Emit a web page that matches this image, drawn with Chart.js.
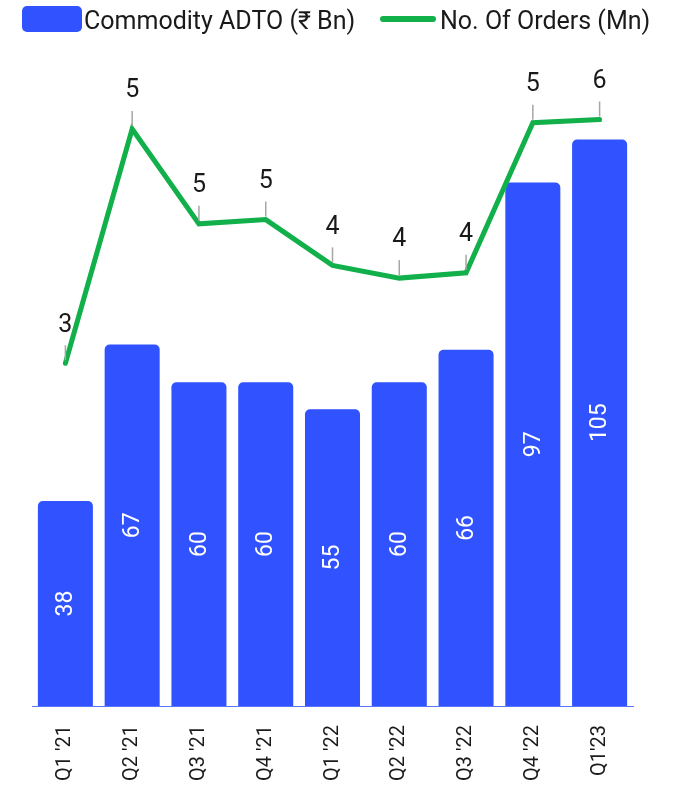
<!DOCTYPE html>
<html>
<head>
<meta charset="utf-8">
<script src="https://cdn.jsdelivr.net/npm/chart.js@4/dist/chart.umd.min.js"></script>
<style>
  html, body { margin: 0; padding: 0; background: #fff; }
  #contenedor { width: 675px; height: 793px; position: relative; }
</style>
</head>
<body>
<div id="contenedor"><canvas id="grafico"></canvas></div>
<script>
// datos
const trimestres = ["Q1 '21", "Q2 '21", "Q3 '21", "Q4 '21", "Q1 '22", "Q2 '22", "Q3 '22", "Q4 '22", "Q1'23"];
const adto = [38, 67, 60, 60, 55, 60, 66, 97, 105];
const ordenes = [3.22, 5.42, 4.53, 4.57, 4.14, 4.02, 4.07, 5.48, 5.51];
const nombreBarras = "Commodity ADTO (₹ Bn)";
const nombreLinea = "No. Of Orders (Mn)";

const colorBarras = "#3052ff";
const colorLinea = "#12b04a";
const colorTexto = "#1a1a1a";
const fuente = "Roboto";

const leyenda = {
    id: "leyenda",
    afterDraw(chart) {
        const ctx = chart.ctx;
        ctx.save();
        ctx.fillStyle = colorBarras;
        ctx.beginPath();
        ctx.roundRect(22, 6, 60, 26, 5);
        ctx.fill();

        ctx.strokeStyle = colorLinea;
        ctx.lineWidth = 6;
        ctx.lineCap = "round";
        ctx.beginPath();
        ctx.moveTo(383, 19);
        ctx.lineTo(433, 19);
        ctx.stroke();

        ctx.font = `25px ${fuente}`;
        ctx.fillStyle = colorTexto;
        ctx.textBaseline = "alphabetic";
        ctx.fillText(nombreBarras, 84, 29);
        ctx.fillText(nombreLinea, 440, 29);
        ctx.restore();
    }
};

const etiquetas = {
    id: "etiquetas",
    afterDatasetsDraw(chart) {
        const ctx = chart.ctx;

        // valores dentro de las barras, girados
        chart.getDatasetMeta(0).data.forEach((barra, i) => {
            ctx.save();
            ctx.translate(barra.x, (barra.y + barra.base) / 2);
            ctx.rotate(-Math.PI / 2);
            ctx.font = `23px ${fuente}`;
            ctx.fillStyle = "#ffffff";
            ctx.textAlign = "center";
            ctx.textBaseline = "middle";
            ctx.fillText(String(adto[i]), 0, 1);
            ctx.restore();
        });

        // valores de la linea con guia
        chart.getDatasetMeta(1).data.forEach((punto, i) => {
            ctx.save();
            ctx.strokeStyle = "#a6a6a6";
            ctx.lineWidth = 1.5;
            ctx.beginPath();
            ctx.moveTo(punto.x, punto.y - 3);
            ctx.lineTo(punto.x, punto.y - 18);
            ctx.stroke();
            ctx.font = `25px ${fuente}`;
            ctx.fillStyle = colorTexto;
            ctx.textAlign = "center";
            ctx.textBaseline = "middle";
            ctx.fillText(String(Math.round(ordenes[i])), punto.x, punto.y - 38);
            ctx.restore();
        });
    }
};

const ctx = document.getElementById("grafico").getContext("2d");

new Chart(ctx, {
    data: {
        labels: trimestres,
        datasets: [
            {
                type: "bar",
                label: nombreBarras,
                data: adto,
                backgroundColor: colorBarras,
                borderRadius: 5,
                categoryPercentage: 1,
                barPercentage: 0.824,
                yAxisID: "y",
                order: 2
            },
            {
                type: "line",
                label: nombreLinea,
                data: ordenes,
                borderColor: colorLinea,
                borderWidth: 5,
                borderCapStyle: "round",
                borderJoinStyle: "miter",
                pointRadius: 0,
                tension: 0,
                yAxisID: "y1",
                order: 1
            }
        ]
    },
    options: {
        responsive: true,
        maintainAspectRatio: false,
        animation: false,
        layout: { padding: { top: 45, left: 32, right: 42, bottom: 0 } },
        plugins: {
            legend: { display: false },
            tooltip: { enabled: false }
        },
        scales: {
            x: {
                grid: { display: false, drawTicks: false },
                border: { display: true, color: "#5a76ff", width: 1 },
                ticks: {
                    autoSkip: false,
                    minRotation: 90,
                    maxRotation: 90,
                    padding: 19,
                    color: colorTexto,
                    font: { family: fuente, size: 20 }
                },
                afterFit(escala) { escala.height = 87; }
            },
            y: { display: false, min: 0, max: 122.5 },
            y1: { display: false, min: 0, max: 6.21, position: "right" }
        }
    },
    plugins: [leyenda, etiquetas]
});
</script>
</body>
</html>
